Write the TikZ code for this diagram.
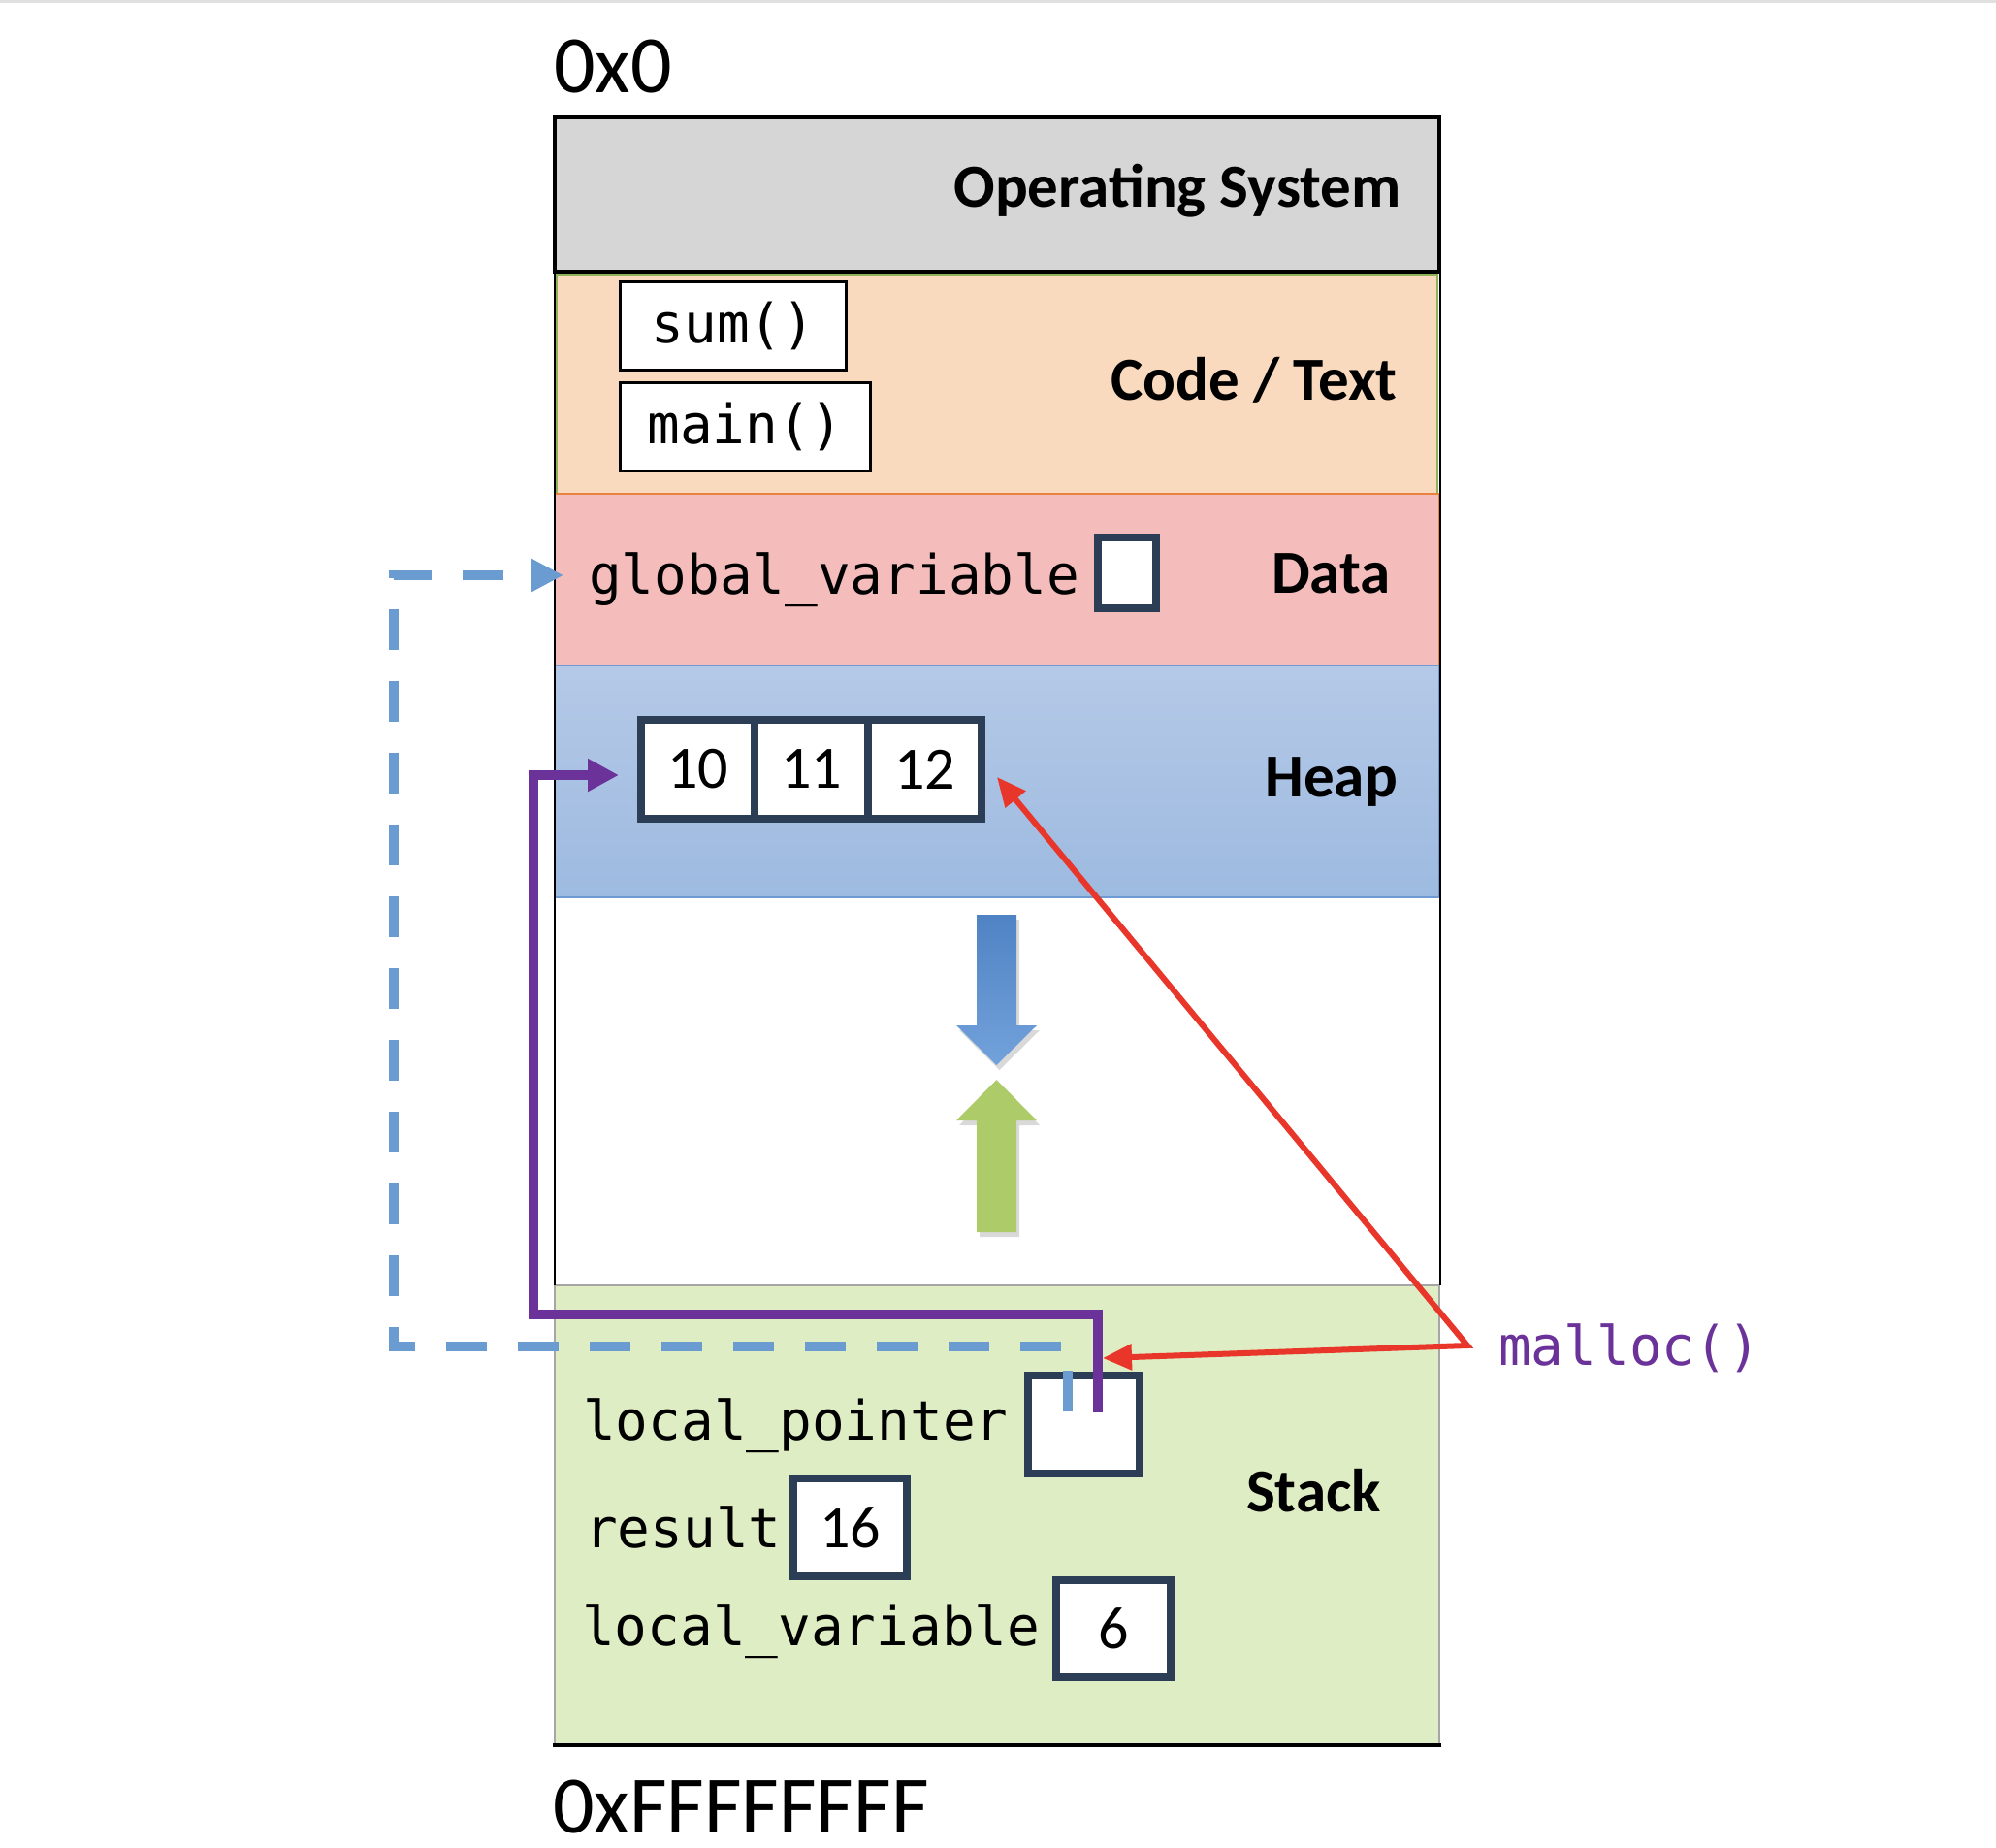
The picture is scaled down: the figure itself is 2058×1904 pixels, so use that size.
\documentclass[tikz,border=0pt]{standalone}
\usepackage{fontspec}
\setmainfont{Carlito}
\setmonofont{DejaVu Sans Mono}
\usepackage{tikz}
\usetikzlibrary{arrows.meta,positioning,calc,shadows}

\definecolor{osgray}{HTML}{D6D6D6}
\definecolor{codefill}{HTML}{F9DABE}
\definecolor{codeedge}{HTML}{8DB35A}
\definecolor{datafill}{HTML}{F4BDBC}
\definecolor{dataedge}{HTML}{E8823F}
\definecolor{heaptop}{HTML}{B5C9E7}
\definecolor{heapbot}{HTML}{9DBAE0}
\definecolor{heapedge}{HTML}{6E9BD3}
\definecolor{stackfill}{HTML}{DFEDC4}
\definecolor{stackedge}{HTML}{A6A6A6}
\definecolor{boxnavy}{HTML}{2C3E55}
\definecolor{ptrpurple}{HTML}{6B3399}
\definecolor{globblue}{HTML}{6A9BD1}
\definecolor{mallocred}{HTML}{E8372A}
\definecolor{growblueT}{HTML}{5083C4}
\definecolor{growblueB}{HTML}{72A2DB}
\definecolor{growgreen}{HTML}{ADCB69}

\begin{document}
\begin{tikzpicture}[x=1pt,y=-1pt,
    addr/.style={font=\fontsize{84}{90}\selectfont, anchor=base west, inner sep=0pt},
    seglabel/.style={font=\fontsize{63}{70}\selectfont\bfseries, anchor=base east, inner sep=0pt},
    codetext/.style={font=\fontsize{56}{60}\selectfont\ttfamily, anchor=base west, inner sep=0pt},
    funcbox/.style={draw=black, line width=3pt, fill=white, inner sep=0pt, minimum height=91pt,
      font=\fontsize{56}{60}\selectfont\ttfamily},
    varbox/.style={draw=boxnavy, line width=8pt, fill=white, inner sep=0pt, outer sep=0pt,
      font=\fontsize{62}{66}\selectfont},
    growth/.style={drop shadow={opacity=0.3, shadow xshift=3pt, shadow yshift=-5pt}},
    ptrline/.style={draw=ptrpurple, line width=10pt, -{Triangle[length=32pt,width=32pt]}},
    globline/.style={draw=globblue, line width=10pt, dash pattern=on 42pt off 32pt,
      -{Triangle[length=33pt,width=32pt]}},
    mallocline/.style={draw=mallocred, line width=6pt, line join=miter,
      {Triangle[length=30pt,width=26pt]}-{Triangle[length=30pt,width=26pt]}}]
  \useasboundingbox (0,0) rectangle (2058,1904);
  \draw[black!12, line width=3pt] (0,1.5) -- (2058,1.5);

  % memory segments
  \fill[osgray] (572,121) rectangle (1484,280);
  \draw[line width=3.5pt] (572,121) rectangle (1484,280);
  \fill[codefill] (574,283) rectangle (1482,509);
  \draw[codeedge, line width=1.5pt] (574,283) rectangle (1482,509);
  \fill[datafill] (572,509) rectangle (1484,686);
  \draw[dataedge, line width=2pt] (572,509) rectangle (1484,686);
  \shade[top color=heaptop, bottom color=heapbot] (572,686) rectangle (1484,925);
  \draw[heapedge, line width=2pt] (572,686) rectangle (1484,925);
  \fill[stackfill] (572,1325) rectangle (1484,1798);
  \draw[stackedge, line width=2.5pt] (572,1325) rectangle (1484,1798);
  \draw[line width=2.5pt] (572,280) -- (572,1325) (1485,121) -- (1485,1325);
  \draw[line width=4pt] (570,1799) -- (1486,1799);

  \node[addr] (lowaddr) at (571,95) {0x0};
  \node[addr] (highaddr) at (570,1889) {0xFFFFFFFF};

  \node[seglabel] (oslbl) at (1445,213) {Operating System};
  \node[seglabel] (codelbl) at (1441,412) {Code / Text};
  \node[seglabel] (datalbl) at (1434,611) {Data};
  \node[seglabel] (heaplbl) at (1441,821) {Heap};
  \node[seglabel] (stacklbl) at (1424,1558) {Stack};

  % code
  \node[funcbox, minimum width=233pt] (sumfn) at (756,336) {sum()};
  \node[funcbox, minimum width=258pt] (mainfn) at (768.5,440) {main()};

  % data
  \node[codetext] (gvar) at (607,612) {global\_variable};
  \node[varbox, minimum width=60pt, minimum height=73pt] (gvarbox) at (1162,590.5) {};

  % heap
  \node[varbox, minimum width=117pt, minimum height=102pt] (cellA) at (719.5,793) {10};
  \node[varbox, minimum width=117pt, minimum height=102pt, right=0pt of cellA] (cellB) {11};
  \node[varbox, minimum width=117pt, minimum height=102pt, right=0pt of cellB] (cellC) {12};

  % heap grows down, stack grows up
  \path[growth, top color=growblueT, bottom color=growblueB]
    (1007,943) -- (1048,943) -- (1048,1057) -- (1069,1057) -- (1027.5,1098)
    -- (986,1057) -- (1007,1057) -- cycle;
  \path[growth, fill=growgreen]
    (1007,1270) -- (1048,1270) -- (1048,1155) -- (1069,1155) -- (1027.5,1113)
    -- (986,1155) -- (1007,1155) -- cycle;

  % stack
  \node[codetext] (lptr) at (601,1484) {local\_pointer};
  \node[varbox, minimum width=115pt, minimum height=101pt] (lptrbox) at (1117.5,1468.5) {};
  \node[codetext] (res) at (603,1595) {result};
  \node[varbox, minimum width=117pt, minimum height=101pt] (resbox) at (876.5,1574.5) {16};
  \node[codetext] (lvar) at (600,1696) {local\_variable};
  \node[varbox, minimum width=118pt, minimum height=100pt] (lvarbox) at (1148,1679) {6};

  \node[codetext, text=ptrpurple] (mallocfn) at (1545,1407) {malloc()};

  % pointers
  \coordinate (ptrsrc) at ($(lptrbox.north)+(14.5,38)$);
  \coordinate (ptrbend) at (550,1355);
  \coordinate (heapin) at ($(cellA.west)+(-23,6)$);
  \coordinate (globsrc) at ($(lptrbox.north)+(-16.5,37)$);
  \coordinate (globbend) at (406,1388);
  \coordinate (gvarin) at ($(gvar.base west)+(-26,-19)$);
  \coordinate (mallocpt) at (1513,1387);
  \coordinate (heaptip) at ($(cellC.south east)+(16,-43)$);
  \coordinate (ptrtip) at ($(lptrbox.north)+(19.5,-18)$);

  \draw[globline] (globsrc) |- (globbend) |- (gvarin);
  \draw[ptrline] (ptrsrc) |- (ptrbend) |- (heapin);
  \draw[mallocline] (heaptip) -- (mallocpt) -- (ptrtip);
\end{tikzpicture}
\end{document}
